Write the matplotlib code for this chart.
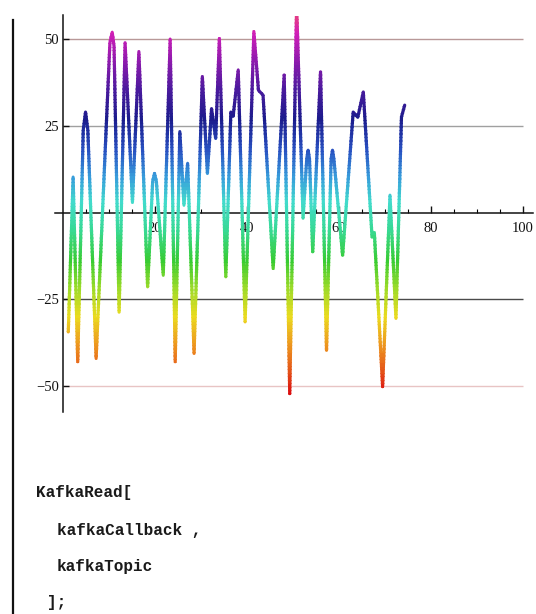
import matplotlib
matplotlib.use("Agg")
import matplotlib.pyplot as plt
import numpy as np
from matplotlib.patches import Rectangle
from matplotlib.lines import Line2D
from matplotlib.colors import LinearSegmentedColormap

# ---- data ----
xs = [1.15, 2.2, 3.2, 4.4, 4.9, 5.4, 7.2, 10.2, 10.7, 11.1, 12.2, 13.5, 15.1, 16.5, 18.4,
      19.5, 19.9, 20.3, 21.8, 23.3, 24.4, 25.4, 26.3, 27.1, 28.5, 30.3, 31.4, 32.3, 33.2,
      34.0, 35.4, 36.5, 37.0, 38.1, 39.6, 41.5, 42.5, 43.5, 45.7, 48.1, 49.3, 50.8, 52.2,
      53.0, 53.3, 53.6, 54.3, 56.0, 57.3, 58.3, 58.6, 58.9, 60.8, 63.1, 64.1, 65.3, 67.2,
      67.7, 69.5, 71.1, 72.4, 73.6, 74.3]
ys = [-34.4, 10.2, -43.0, 23.8, 29.0, 23.8, -42.0, 49.0, 52.0, 48.0, -28.7, 49.0, 3.0, 46.4,
      -21.4, 9.0, 11.3, 9.0, -18.0, 50.0, -43.0, 23.3, 2.2, 14.2, -40.6, 39.2, 11.3, 30.0,
      21.4, 50.2, -18.5, 29.0, 27.8, 41.1, -31.5, 52.2, 35.3, 33.9, -16.1, 39.7, -52.2,
      60.0, -1.6, 15.5, 18.0, 15.5, -11.3, 40.6, -39.7, 15.5, 18.0, 15.5, -12.3, 29.0,
      27.5, 34.8, -7.0, -5.8, -50.2, 5.0, -30.5, 27.6, 31.0]

ref_levels = [50, 25, -25, -50]
ref_colors = ["#b89898", "#a0a0a0", "#4a4a4a", "#e8c4c4"]
x_major = [20, 40, 60, 80, 100]
x_labels = ["20", "40", "60", "80", "100"]
y_ticks = [-50, -25, 25, 50]
y_labels = ["\u221250", "\u221225", "25", "50"]
code_lines = ["KafkaRead[", "kafkaCallback ,", "kafkaTopic", "];"]

# ---- figure ----
W, H = 536, 614
fig = plt.figure(figsize=(W / 100, H / 100), dpi=100)
fig.patch.set_facecolor("white")

x_lo, x_hi = -1.74, 102.2
y_lo, y_hi = -57.5, 57.0
ax = fig.add_axes([55 / W, 1 - 412 / H, (533 - 55) / W, (412 - 15) / H])
ax.set_xlim(x_lo, x_hi)
ax.set_ylim(y_lo, y_hi)
ax.set_facecolor("none")

for s in ["top", "right"]:
    ax.spines[s].set_visible(False)
ax.spines["bottom"].set_position(("data", 0))
ax.spines["left"].set_position(("data", 0))
for s in ["bottom", "left"]:
    ax.spines[s].set_linewidth(1.1)
    ax.spines[s].set_color("#111111")

ax.set_xticks(x_major)
ax.set_xticklabels(x_labels)
ax.set_xticks([v for v in range(5, 101, 5) if v not in x_major], minor=True)
ax.set_yticks(y_ticks)
ax.set_yticklabels(y_labels)
ax.tick_params(axis="x", which="major", direction="in", length=5, width=1, pad=6.5,
               labelsize=10.5, colors="#111111")
ax.tick_params(axis="x", which="minor", direction="in", length=3, width=0.8)
ax.tick_params(axis="y", which="major", direction="in", length=4, width=1, pad=3,
               labelsize=10.5, colors="#111111")
for lab in ax.get_xticklabels() + ax.get_yticklabels():
    lab.set_fontfamily("Liberation Serif")

# reference lines
for lv, c in zip(ref_levels, ref_colors):
    ax.hlines(lv, 0, 100, colors=c, linewidth=1.0, zorder=1)

# colour by value
anchors = [(-52, (0.86, 0.06, 0.06)), (-45, (0.90, 0.36, 0.10)), (-38, (0.93, 0.60, 0.12)),
           (-30, (0.92, 0.86, 0.12)), (-22, (0.62, 0.86, 0.16)), (-14, (0.22, 0.80, 0.20)),
           (-5, (0.22, 0.85, 0.58)), (3, (0.26, 0.86, 0.80)), (10, (0.22, 0.62, 0.86)),
           (18, (0.16, 0.32, 0.76)), (27, (0.11, 0.11, 0.55)), (36, (0.30, 0.10, 0.62)),
           (44, (0.56, 0.10, 0.68)), (52, (0.82, 0.12, 0.72)), (57, (0.90, 0.25, 0.50))]
vmin, vmax = anchors[0][0], anchors[-1][0]
cmap = LinearSegmentedColormap.from_list(
    "mm", [((v - vmin) / (vmax - vmin), c) for v, c in anchors])

edges = np.arange(y_lo, y_hi + 0.01, 1.0)
for lo, hi in zip(edges[:-1], edges[1:]):
    mid = 0.5 * (lo + hi)
    col = cmap(np.clip((mid - vmin) / (vmax - vmin), 0, 1))
    ln, = ax.plot(xs, ys, color=col, linewidth=2.3, solid_joinstyle="round",
                  solid_capstyle="round", zorder=3)
    top = min(hi + 0.35, y_hi)
    rect = Rectangle((x_lo, lo), x_hi - x_lo, top - lo, transform=ax.transData)
    ln.set_clip_path(rect)

# notebook cell bracket
fig.add_artist(Line2D([13 / W, 13 / W], [1 - 20 / H, 0], color="#111111", linewidth=1.6))

# code text
pos = [(36, 493), (57, 530), (57, 567), (47, 603)]
for t, (px, py) in zip(code_lines, pos):
    fig.text(px / W, 1 - py / H, t, family="Liberation Mono", fontweight="bold",
             fontsize=11.5, va="center", ha="left", color="#1a1a1a")

fig.savefig("out.png", dpi=100, facecolor="white")
